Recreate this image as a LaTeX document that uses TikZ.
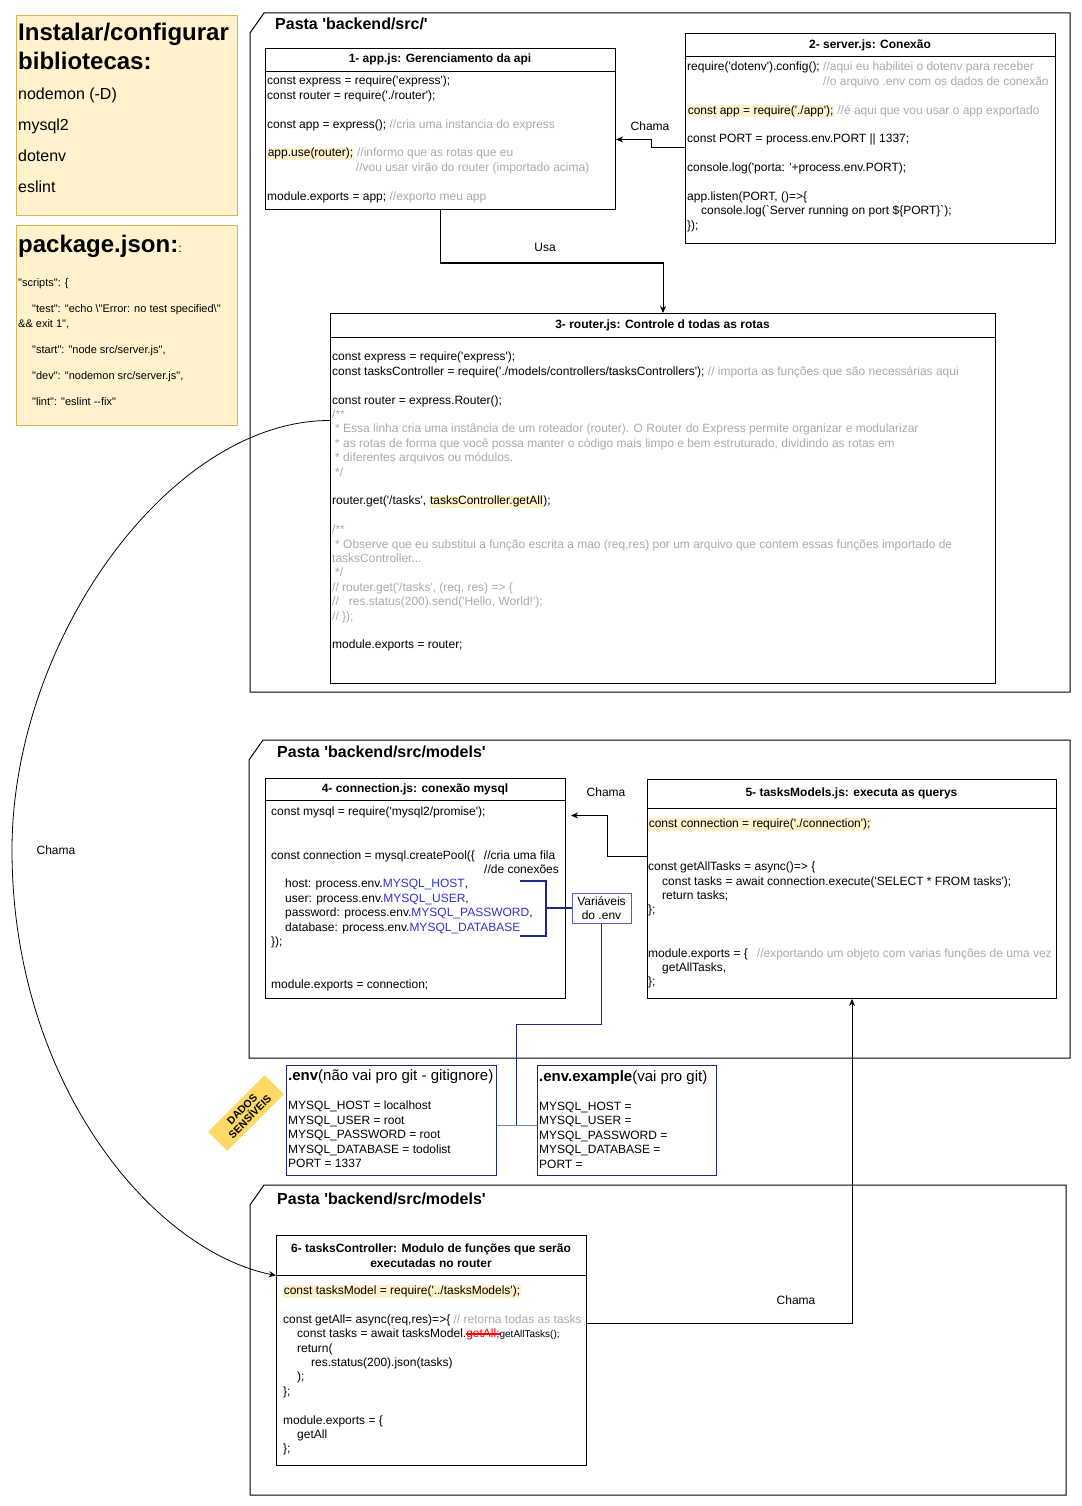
\documentclass[tikz,border=0pt]{standalone}
\usepackage{fontspec}
\setmainfont{Liberation Sans}[Ligatures=TeXOff]
\usetikzlibrary{positioning, arrows.meta, calc}
\definecolor{notefill}{RGB}{255,242,204}
\definecolor{notedraw}{RGB}{214,182,86}
\definecolor{hlyellow}{RGB}{255,242,204}
\definecolor{cmtgray}{RGB}{170,170,170}
\definecolor{envblue}{RGB}{51,51,204}
\definecolor{bracenavy}{RGB}{30,40,130}
\definecolor{varsblue}{RGB}{90,90,200}
\definecolor{linkblue}{RGB}{108,142,191}
\definecolor{tagyellow}{RGB}{255,217,102}

\newcommand{\hlt}[1]{{\setlength{\fboxsep}{0.6pt}\colorbox{hlyellow}{#1}}}
\newcommand{\cmt}[1]{\textcolor{cmtgray}{#1}}
\newcommand{\envv}[1]{\textcolor{envblue}{#1}}
\newcommand{\blank}{\mbox{}}
\newcommand{\indt}{\hspace*{14pt}}
\newlength{\strklen}
\newcommand{\strk}[1]{\settowidth{\strklen}{#1}\rlap{\color{red}\rule[2.6pt]{\strklen}{0.7pt}}\rlap{\color{red}\rule[4.4pt]{\strklen}{0.7pt}}\textcolor{red}{#1}}

\begin{document}
\begin{tikzpicture}[x=1pt, y=-1pt,
    filebox/.style={draw, line width=1pt, fill=white, inner sep=0pt, anchor=north west},
    notebox/.style={draw=notedraw, fill=notefill, line width=1pt, inner sep=0pt, anchor=north west},
    envbox/.style={draw=bracenavy, line width=1pt, inner sep=0pt, anchor=north west},
    boxtitle/.style={font=\fontsize{12}{15}\selectfont\bfseries, align=center, inner sep=0pt},
    codetext/.style={anchor=north west, inner sep=0pt, align=left, font=\fontsize{12}{14.4}\selectfont, execute at begin node=\strut},
    pasta/.style={draw, line width=1pt},
    pastatitle/.style={anchor=west, inner sep=0pt, font=\fontsize{16}{19}\selectfont\bfseries},
    seta/.style={-{Stealth[length=7pt, width=6pt]}, line width=1pt},
    edgelabel/.style={inner sep=1pt, font=\fontsize{12}{14}\selectfont},
    brace/.style={draw=bracenavy, line width=2pt},
    tag/.style={fill=tagyellow, rotate=45, align=center, inner sep=1pt, minimum width=80, minimum height=27, font=\fontsize{10.5}{11}\selectfont\bfseries}
]

% Page
\fill[white] (0,0) rectangle (1081,1506);
\useasboundingbox (0,0) rectangle (1081,1506);

% Notes on the left
\node[notebox, minimum width=221, minimum height=200] (libs) at (16,15) {};
\node[codetext, font=\fontsize{24}{29}\selectfont\bfseries] (libs-t) at (18,23) {Instalar/configurar\\bibliotecas:};
\node[codetext, font=\fontsize{16}{31}\selectfont] (libs-l) at (18,88) {nodemon (-D)\\mysql2\\dotenv\\eslint};

\node[notebox, minimum width=221, minimum height=200] (pkg) at (16,225) {};
\node[anchor=west, inner sep=0pt, font=\fontsize{24}{29}\selectfont\bfseries] (pkg-t) at (18,246) {package.json:{\fontsize{12}{14}\selectfont\mdseries :}};
\node[codetext, font=\fontsize{11}{13.2}\selectfont] (pkg-l) at (18,278) {%
"scripts": \{\\[12.8pt]
\indt"test": "echo \textbackslash"Error: no test specified\textbackslash"\\[1.8pt]
\&\& exit 1",\\[12.8pt]
\indt"start": "node src/server.js",\\[12.8pt]
\indt"dev": "nodemon src/server.js",\\[12.8pt]
\indt"lint": "eslint --fix"};

% Pasta backend/src
\draw[pasta] (250,33) -- (264,13) -- (1070,13) -- (1070,692) -- (250,692) -- cycle;
\node[pastatitle] (pasta-src) at (275,24) {Pasta 'backend/src/'};

% 1- app.js
\node[filebox, minimum width=350, minimum height=161] (app) at (265,48) {};
\draw ([yshift=-23]app.north west) -- ([yshift=-23]app.north east);
\node[boxtitle] (app-t) at (440,59) {1- app.js: Gerenciamento da api};
\node[codetext] (app-c) at (267,76) {%
const express = require('express');\\
const router = require('./router');\\
\blank\\
const app = express(); \cmt{//cria uma instancia do express}\\
\blank\\
\hlt{app.use(router);} \cmt{//informo que as rotas que eu}\\
\phantom{app.use(router); }\cmt{//vou usar virão do router (importado acima)}\\
\blank\\
module.exports = app; \cmt{//exporto meu app}};

% 2- server.js
\node[filebox, minimum width=370, minimum height=210] (server) at (685,33) {};
\draw ([yshift=-23]server.north west) -- ([yshift=-23]server.north east);
\node[boxtitle] (server-t) at (870,45) {2- server.js: Conexão};
\node[codetext] (server-c) at (687,62) {%
require('dotenv').config(); \cmt{//aqui eu habilitei o dotenv para receber}\\
\phantom{require('dotenv').config(); }\cmt{//o arquivo .env com os dados de conexão}\\
\blank\\
\hlt{const app = require('./app');} \cmt{//é aqui que vou usar o app exportado}\\
\blank\\
const PORT = process.env.PORT || 1337;\\
\blank\\
console.log('porta: '+process.env.PORT);\\
\blank\\
app.listen(PORT, ()=>\{\\
\indt console.log(`Server running on port \$\{PORT\}`);\\
\});};

% 3- router.js
\node[filebox, minimum width=665, minimum height=370] (router) at (330,313) {};
\draw ([yshift=-24]router.north west) -- ([yshift=-24]router.north east);
\node[boxtitle] (router-t) at (662.5,325) {3- router.js: Controle d todas as rotas};
\node[codetext] (router-c) at (332,352) {%
const express = require('express');\\
const tasksController = require('./models/controllers/tasksControllers'); \cmt{// importa as funções que são necessárias aqui}\\
\blank\\
const router = express.Router();\\
\cmt{/**}\\
\hspace*{3pt}\cmt{* Essa linha cria uma instância de um roteador (router). O Router do Express permite organizar e modularizar}\\
\hspace*{3pt}\cmt{* as rotas de forma que você possa manter o código mais limpo e bem estruturado, dividindo as rotas em}\\
\hspace*{3pt}\cmt{* diferentes arquivos ou módulos.}\\
\hspace*{3pt}\cmt{*/}\\
\blank\\
router.get('/tasks', \hlt{tasksController.getAll});\\
\blank\\
\cmt{/**}\\
\hspace*{3pt}\cmt{* Observe que eu substitui a função escrita a mao (req,res) por um arquivo que contem essas funções importado de}\\
\cmt{tasksController...}\\
\hspace*{3pt}\cmt{*/}\\
\cmt{// router.get('/tasks', (req, res) => \{}\\
\cmt{//\hspace*{10pt}res.status(200).send('Hello, World!');}\\
\cmt{// \});}\\
\blank\\
module.exports = router;};

% Pasta backend/src/models
\draw[pasta] (249,760) -- (263,740) -- (1070,740) -- (1070,1058) -- (249,1058) -- cycle;
\node[pastatitle] (pasta-models) at (277,752) {Pasta 'backend/src/models'};

% 4- connection.js
\node[filebox, minimum width=300, minimum height=220] (connjs) at (265,778) {};
\draw ([yshift=-22]connjs.north west) -- ([yshift=-22]connjs.north east);
\node[boxtitle] (connjs-t) at (415,789) {4- connection.js: conexão mysql};
\node[codetext] (connjs-c) at (271,807) {%
const mysql = require('mysql2/promise');\\
\blank\\
\blank\\
const connection = mysql.createPool(\{\hspace{9pt}//cria uma fila\\
\hspace*{213pt}//de conexões\\
\indt host: process.env.\envv{MYSQL\_HOST},\\
\indt user: process.env.\envv{MYSQL\_USER},\\
\indt password: process.env.\envv{MYSQL\_PASSWORD},\\
\indt database: process.env.\envv{MYSQL\_DATABASE}\\
\});\\
\blank\\
\blank\\
module.exports = connection;};

% 5- tasksModels.js
\node[filebox, minimum width=409, minimum height=219] (models) at (647,779) {};
\draw ([yshift=-29]models.north west) -- ([yshift=-29]models.north east);
\node[boxtitle] (models-t) at (851.5,793) {5- tasksModels.js: executa as querys};
\node[codetext] (models-c) at (648,818) {%
\hlt{const connection = require('./connection');}\\
\blank\\
\blank\\
const getAllTasks = async()=> \{\\
\indt const tasks = await connection.execute('SELECT * FROM tasks');\\
\indt return tasks;\\
\};\\
\blank\\
\blank\\
module.exports = \{\hspace{9pt}\cmt{//exportando um objeto com varias funções de uma vez}\\
\indt getAllTasks,\\
\};};

% Env variables bracket
\draw[brace] (520,881) -| (546,936) -- (520,936);
\coordinate (bracemid) at (546,908);
\node[draw=varsblue, fill=white, line width=1pt, minimum width=59, minimum height=30, inner sep=0pt, align=center, font=\fontsize{12}{14}\selectfont] (vars) at (601.5,908) {Variáveis\\do .env};
\draw[brace] (bracemid) -- (vars.west);

% .env files
\node[envbox, minimum width=210, minimum height=110] (env) at (286,1065) {};
\node[anchor=west, inner sep=0pt, font=\fontsize{15}{18}\selectfont] (env-t) at (288,1077) {\textbf{.env}(não vai pro git - gitignore)};
\node[codetext] (env-c) at (288,1101) {%
MYSQL\_HOST = localhost\\
MYSQL\_USER = root\\
MYSQL\_PASSWORD = root\\
MYSQL\_DATABASE = todolist\\
PORT = 1337};

\node[envbox, minimum width=179, minimum height=110] (envex) at (537,1065) {};
\node[anchor=west, inner sep=0pt, font=\fontsize{15}{18}\selectfont] (envex-t) at (539,1078) {\textbf{.env.example}(vai pro git)};
\node[codetext] (envex-c) at (539,1102) {%
MYSQL\_HOST =\\
MYSQL\_USER =\\
MYSQL\_PASSWORD =\\
MYSQL\_DATABASE =\\
PORT =};

\node[tag] (dados) at (246,1113) {DADOS\\SENSÍVEIS};

\coordinate (envmid) at (516,1125);
\draw[draw=bracenavy, line width=1pt] (vars.south) -- ++(0,101) -| (envmid);
\draw[draw=linkblue, line width=1.5pt] ([yshift=-5]env.east) -- ([yshift=-5]envex.west);

% Pasta backend/src/models (controller)
\draw[pasta] (250,1205) -- (264,1185) -- (1066,1185) -- (1066,1495) -- (250,1495) -- cycle;
\node[pastatitle] (pasta-ctrl) at (277,1199) {Pasta 'backend/src/models'};

% 6- tasksController
\node[filebox, minimum width=310, minimum height=230] (ctrl) at (276,1235) {};
\draw ([yshift=-40]ctrl.north west) -- ([yshift=-40]ctrl.north east);
\node[boxtitle] (ctrl-t) at (431,1255.5) {6- tasksController: Modulo de funções que serão\\executadas no router};
\node[codetext] (ctrl-c) at (283,1285) {%
\hlt{const tasksModel = require('../tasksModels');}\\
\blank\\
const getAll= async(req,res)=>\{ \cmt{// retorna todas as tasks}\\
\indt const tasks = await tasksModel.\strk{getAll;}{\fontsize{10}{12}\selectfont getAllTasks();}\\
\indt return(\\
\indt\indt res.status(200).json(tasks)\\
\indt );\\
\};\\
\blank\\
module.exports = \{\\
\indt getAll\\
\};};

% Connectors
\draw[seta] ([yshift=-9]server.west) -- ++(-34,0) |- ([yshift=-10.5]app.east);
\node[edgelabel] (chama-app) at (650,126) {Chama};

\draw[seta] (app.south) -- ++(0,53) -| (router.north);
\node[edgelabel] (usa) at (545,247) {Usa};

\draw[seta, shorten >=5pt] ([yshift=32.5]models.west) -- ++(-40,0) |- ([yshift=73]connjs.east);
\node[edgelabel] (chama-conn) at (606,792) {Chama};

\draw[seta] ([yshift=27]ctrl.east) -| (models.south);
\node[edgelabel] (chama-models) at (796,1300) {Chama};

\draw[seta, line width=0.8pt] ([yshift=78]router.west) .. controls (170,420) and (12,640) .. (12,850)
    .. controls (12,1080) and (150,1250) .. ([yshift=75]ctrl.west);
\node[edgelabel] (chama-ctrl) at (56,850) {Chama};

\end{tikzpicture}
\end{document}
